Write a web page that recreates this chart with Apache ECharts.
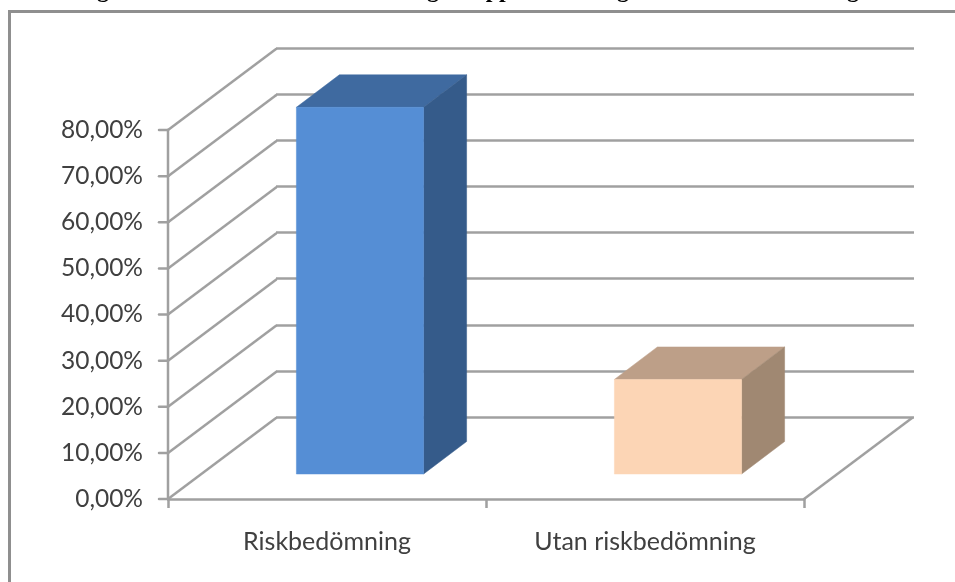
<!DOCTYPE html>
<html>
<head>
<meta charset="utf-8">
<style>html,body{margin:0;padding:0;background:#fff}#chart{width:955px;height:582px}</style>
<script src="https://cdn.jsdelivr.net/npm/echarts@6/dist/echarts.min.js"></script>
</head>
<body>
<div id="chart"></div>
<script>
// Share of cases with and without a risk assessment
const categories = ['Riskbedömning', 'Utan riskbedömning'];
const shares = [79.5, 20.5];
const tickValues = [0, 10, 20, 30, 40, 50, 60, 70, 80];
const tickLabels = ['0,00%', '10,00%', '20,00%', '30,00%', '40,00%', '50,00%', '60,00%', '70,00%', '80,00%'];
const faceColors = ['#558ed5', '#fcd5b5'];
const topColors = ['#3f6aa0', '#bd9f88'];
const sideColors = ['#355b8a', '#a08872'];
const headingScraps = [['g', 103], ['g', 433], ['pp', 499], ['g', 623], ['g', 853]];

// Oblique projection of the chart box
const wallDepth = [108, -81];
const barFront = [33, -25];
const barDepth = [43, -32.5];
const barShare = 0.4;
const lineColor = '#a0a0a0';
const lineWidth = 2.5;
const tickLength = 9;

const chart = echarts.init(document.getElementById('chart'), null, { renderer: 'canvas' });

// Left wall: axis segment, tick and the diagonal running back to the rear wall
function renderWallLink(params, api) {
  const value = api.value(0);
  const from = api.coord([0, value]);
  const left = params.coordSys.x;
  const stroke = (x1, y1, x2, y2) => ({
    type: 'line',
    shape: { x1, y1, x2, y2 },
    style: { stroke: lineColor, lineWidth, lineCap: 'round' }
  });
  const lines = [
    stroke(left, from[1], left + wallDepth[0], from[1] + wallDepth[1]),
    stroke(left - tickLength, from[1], left, from[1])
  ];
  if (value < tickValues[tickValues.length - 1]) {
    const next = api.coord([0, tickValues[params.dataIndex + 1]]);
    lines.push(stroke(left, from[1], left, next[1]));
  }
  if (value === 0) {
    const right = left + params.coordSys.width;
    lines.push(stroke(right, from[1], right + wallDepth[0], from[1] + wallDepth[1]));
  }
  return { type: 'group', children: lines };
}

function renderBox(params, api) {
  const i = params.dataIndex;
  const top = api.coord([api.value(0), api.value(1)]);
  const base = api.coord([api.value(0), 0]);
  const w = api.size([1, 0])[0] * barShare;
  const x0 = top[0] - w / 2 + barFront[0];
  const x1 = x0 + w;
  const yTop = top[1] + barFront[1];
  const yBase = base[1] + barFront[1];
  const dx = barDepth[0];
  const dy = barDepth[1];
  const face = (points, fill) => ({
    type: 'polygon',
    shape: { points },
    style: { fill, stroke: fill, lineWidth: 0.5 }
  });
  return {
    type: 'group',
    children: [
      face([[x0, yTop], [x1, yTop], [x1 + dx, yTop + dy], [x0 + dx, yTop + dy]], topColors[i]),
      face([[x1, yTop], [x1 + dx, yTop + dy], [x1 + dx, yBase + dy], [x1, yBase]], sideColors[i]),
      face([[x0, yTop], [x1, yTop], [x1, yBase], [x0, yBase]], faceColors[i])
    ]
  };
}

chart.setOption({
  animation: false,
  backgroundColor: '#ffffff',
  grid: [
    { left: 168, top: 130, width: 636, height: 369 },
    { left: 276, top: 48, width: 638, height: 369 }
  ],
  xAxis: [
    {
      type: 'category',
      gridIndex: 0,
      data: categories,
      axisLine: { show: true, onZero: false, lineStyle: { color: lineColor, width: lineWidth } },
      axisTick: { show: true, length: tickLength, lineStyle: { color: lineColor, width: lineWidth } },
      axisLabel: { color: '#404040', fontFamily: 'Lato', fontSize: 25, margin: 30 }
    },
    { type: 'category', gridIndex: 1, data: categories, show: false }
  ],
  yAxis: [
    {
      type: 'value',
      gridIndex: 0,
      min: 0,
      max: 80,
      interval: 10,
      splitLine: { show: false },
      axisLine: { show: false },
      axisTick: { show: false },
      axisLabel: {
        color: '#404040',
        fontFamily: 'Lato',
        fontSize: 24.5,
        margin: 25,
        padding: [8, 0, 0, 0],
        formatter: (v) => tickLabels[tickValues.indexOf(v)]
      }
    },
    {
      type: 'value',
      gridIndex: 1,
      min: 0,
      max: 80,
      interval: 10,
      axisLine: { show: false },
      axisTick: { show: false },
      axisLabel: { show: false },
      splitLine: { show: true, lineStyle: { color: lineColor, width: lineWidth } }
    }
  ],
  series: [
    {
      type: 'custom',
      name: 'Vägglinjer',
      xAxisIndex: 0,
      yAxisIndex: 0,
      z: 1,
      silent: true,
      clip: false,
      encode: { y: 0 },
      data: tickValues.map((v) => [v]),
      renderItem: renderWallLink
    },
    {
      type: 'custom',
      name: 'Andel',
      xAxisIndex: 0,
      yAxisIndex: 0,
      z: 3,
      clip: false,
      encode: { x: 0, y: 1 },
      data: shares.map((v, i) => [i, v]),
      renderItem: renderBox
    }
  ],
  graphic: [
    // Outer frame runs off the right and bottom edges of the page
    {
      type: 'polyline',
      silent: true,
      shape: { points: [[9.5, 590], [9.5, 11.5], [965, 11.5]] },
      style: { stroke: '#8f8f8f', lineWidth: 3, fill: 'none' }
    },
    ...headingScraps.map(([text, x]) => ({
      type: 'text',
      silent: true,
      x,
      y: 3,
      style: {
        text,
        fill: '#000000',
        font: 'bold 24px "Liberation Serif"',
        align: 'center',
        verticalAlign: 'bottom'
      }
    }))
  ]
});
</script>
</body>
</html>
